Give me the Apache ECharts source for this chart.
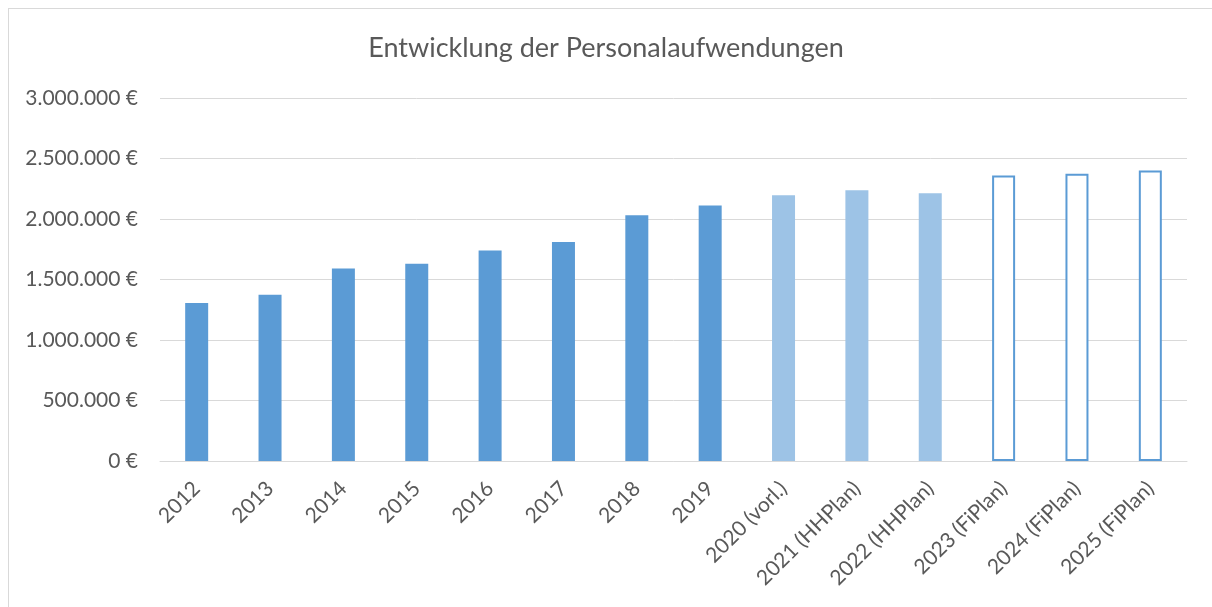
<!DOCTYPE html>
<html>
<head>
<meta charset="utf-8">
<script src="https://cdn.jsdelivr.net/npm/echarts@6/dist/echarts.min.js"></script>
<style>
  html, body { margin: 0; padding: 0; background: #fff; }
  #frame { position: absolute; left: 8px; top: 8px; width: 1212px; height: 620px; border: 1px solid #d9d9d9; box-sizing: border-box; }
  #main { position: absolute; left: 0; top: 0; width: 1212px; height: 607px; }
</style>
</head>
<body>
<div id="frame"></div>
<div id="main"></div>
<script>
// Jahre / Planstände
const categories = ['2012', '2013', '2014', '2015', '2016', '2017', '2018', '2019',
  '2020 (vorl.)', '2021 (HHPlan)', '2022 (HHPlan)', '2023 (FiPlan)', '2024 (FiPlan)', '2025 (FiPlan)'];
// Personalaufwendungen in €
const values = [1306000, 1375000, 1590000, 1631000, 1739000, 1810000, 2031000, 2111000,
  2196000, 2237000, 2212000, 2359000, 2375000, 2400000];
// Art des Wertes: ist = Rechnungsergebnis, hh = Haushaltsplan/vorl., fi = Finanzplanung
const status = ['ist', 'ist', 'ist', 'ist', 'ist', 'ist', 'ist', 'ist',
  'hh', 'hh', 'hh', 'fi', 'fi', 'fi'];
const yTicks = [0, 500000, 1000000, 1500000, 2000000, 2500000, 3000000];

const chart = echarts.init(document.getElementById('main'));

const styles = {
  ist: { color: '#5b9bd5' },
  hh: { color: '#9dc3e6' },
  fi: { color: '#ffffff', borderColor: '#5b9bd5', borderWidth: 2 }
};

function fmtEuro(v) {
  return String(v).replace(/\B(?=(\d{3})+(?!\d))/g, '.') + ' €';
}

const option = {
  animation: false,
  textStyle: { fontFamily: 'Lato' },
  title: {
    text: 'Entwicklung der Personalaufwendungen',
    left: 'center',
    top: 30,
    textStyle: { fontSize: 27, fontWeight: 'normal', color: '#595959', fontFamily: 'Lato' }
  },
  grid: { left: 160, right: 25, top: 98, bottom: 146 },
  xAxis: {
    type: 'category',
    data: categories,
    axisLine: { lineStyle: { color: '#d9d9d9', width: 1 } },
    axisTick: { show: false },
    axisLabel: { rotate: 45, color: '#595959', fontSize: 21, margin: 24, interval: 0 }
  },
  yAxis: {
    type: 'value',
    min: yTicks[0],
    max: yTicks[yTicks.length - 1],
    interval: 500000,
    axisLine: { show: false },
    axisTick: { show: false },
    splitLine: { lineStyle: { color: '#d9d9d9', width: 1 } },
    axisLabel: { color: '#595959', fontSize: 21, margin: 22, formatter: fmtEuro }
  },
  series: [{
    type: 'bar',
    barWidth: 23,
    data: values.map((v, i) => ({ value: v, itemStyle: styles[status[i]] }))
  }]
};

chart.setOption(option);
</script>
</body>
</html>
